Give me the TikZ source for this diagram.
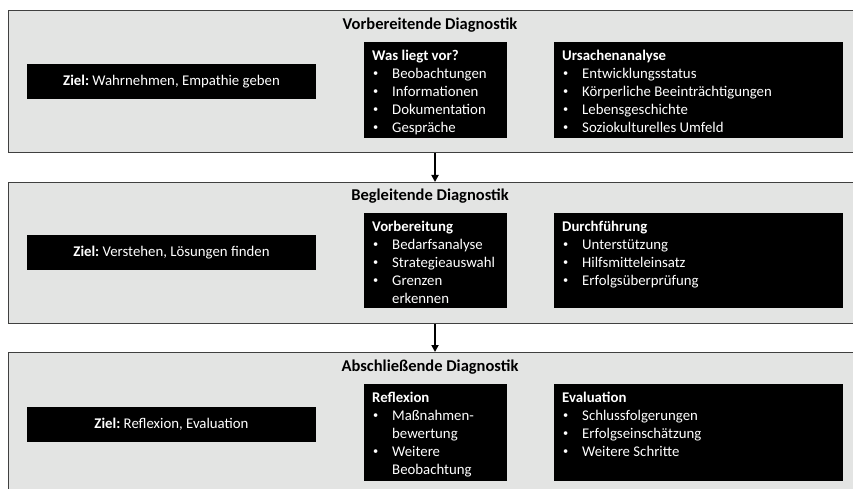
\documentclass[tikz,border=0pt]{standalone}
\usepackage{graphicx}
\usepackage{fontspec}
\setmainfont{Carlito}
\frenchspacing
\usetikzlibrary{arrows.meta,calc}
\definecolor{panelgray}{HTML}{E3E4E3}
\definecolor{panelline}{HTML}{404040}
\newcommand\smallbul{\raisebox{1.3pt}{\scalebox{0.7}{\textbullet}}}
\newcommand\bul[1]{\hspace*{1pt}\makebox[19pt][l]{\smallbul}#1}
\newcommand\cont[1]{\hspace*{20pt}#1}
\begin{document}
\begin{tikzpicture}[x=1pt,y=-1pt,
  panel/.style={draw=panelline, line width=1.1pt, fill=panelgray, anchor=north west, minimum width=845, inner sep=0},
  ptitle/.style={font=\fontsize{16.5}{20}\selectfont\bfseries, inner sep=0},
  zielbox/.style={fill=black, text=white, minimum width=289, minimum height=35, inner sep=0, font=\fontsize{14.8}{18}\selectfont\frenchspacing},
  infobox/.style={fill=black, anchor=north west, inner sep=0},
  infotext/.style={text=white, anchor=north west, inner sep=0, align=left, font=\fontsize{14.8}{18}\selectfont\frenchspacing},
  flow/.style={line width=1.8pt, -{Triangle[length=7pt,width=7pt]}}
]
\useasboundingbox (0,0) rectangle (853,489);
\begin{scope}
\clip (0,0) rectangle (853,489);
% panels
\node[panel, minimum height=142] (p1) at (8,10) {};
\node[panel, minimum height=141] (p2) at (8,182) {};
\node[panel, minimum height=150] (p3) at (8,352) {};
\end{scope}
% titles
\node[ptitle] (t1) at (430,25) {Vorbereitende Diagnostik};
\node[ptitle] (t2) at (430,196) {Begleitende Diagnostik};
\node[ptitle] (t3) at (430,367) {Abschließende Diagnostik};
% ziel boxes
\node[zielbox] (z1) at (171.5,81.5) {\textbf{Ziel:} Wahrnehmen, Empathie geben};
\node[zielbox] (z2) at (171.5,252.5) {\textbf{Ziel:} Verstehen, Lösungen finden};
\node[zielbox] (z3) at (171.5,424) {\textbf{Ziel:} Reflexion, Evaluation};
% info boxes panel 1
\node[infobox, minimum width=143, minimum height=96] (a1) at (364,42) {};
\node[infotext] (a1t) at ($(a1.north west)+(8,7.5)$) {\textbf{Was liegt vor?}\\ \bul{Beobachtungen}\\ \bul{Informationen}\\ \bul{Dokumentation}\\ \bul{Gespräche}};
\node[infobox, minimum width=289, minimum height=96] (b1) at (554,42) {};
\node[infotext] (b1t) at ($(b1.north west)+(8,7.5)$) {\textbf{Ursachenanalyse}\\ \bul{Entwicklungsstatus}\\ \bul{Körperliche Beeinträchtigungen}\\ \bul{Lebensgeschichte}\\ \bul{Soziokulturelles Umfeld}};
% panel 2
\node[infobox, minimum width=143, minimum height=95] (a2) at (364,213) {};
\node[infotext] (a2t) at ($(a2.north west)+(8,7.5)$) {\textbf{Vorbereitung}\\ \bul{Bedarfsanalyse}\\ \bul{Strategieauswahl}\\ \bul{Grenzen}\\ \cont{erkennen}};
\node[infobox, minimum width=289, minimum height=95] (b2) at (554,213) {};
\node[infotext] (b2t) at ($(b2.north west)+(8,7.5)$) {\textbf{Durchführung}\\ \bul{Unterstützung}\\ \bul{Hilfsmitteleinsatz}\\ \bul{Erfolgsüberprüfung}};
% panel 3
\node[infobox, minimum width=143, minimum height=97] (a3) at (364,384) {};
\node[infotext] (a3t) at ($(a3.north west)+(8,7.5)$) {\textbf{Reflexion}\\ \bul{Maßnahmen-}\\ \cont{bewertung}\\ \bul{Weitere}\\ \cont{Beobachtung}};
\node[infobox, minimum width=289, minimum height=97] (b3) at (554,384) {};
\node[infotext] (b3t) at ($(b3.north west)+(8,7.5)$) {\textbf{Evaluation}\\ \bul{Schlussfolgerungen}\\ \bul{Erfolgseinschätzung}\\ \bul{Weitere Schritte}};
% arrows
\draw[flow] (p1.south -| 435,0) -- (p2.north -| 435,0);
\draw[flow] (p2.south -| 435,0) -- (p3.north -| 435,0);
\end{tikzpicture}
\end{document}
